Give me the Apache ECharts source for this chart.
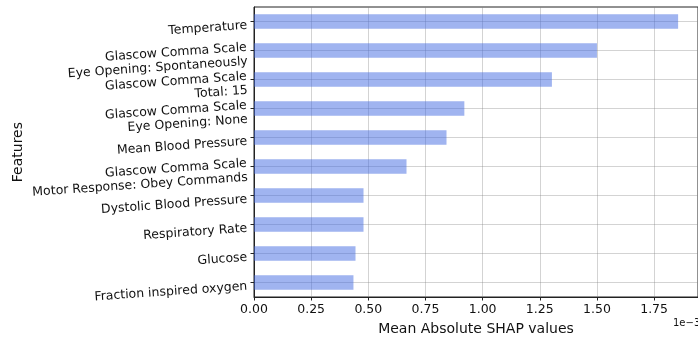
<!DOCTYPE html>
<html>
<head>
<meta charset="utf-8">
<script src="https://cdn.jsdelivr.net/npm/echarts@6/dist/echarts.min.js"></script>
<style>
html,body{margin:0;padding:0;background:#fff;}
#chart{width:698px;height:341px;}
</style>
</head>
<body>
<div id="chart"></div>
<script>
// Feature names (top to bottom)
const features = [
  'Temperature',
  'Glascow Comma Scale\nEye Opening: Spontaneously',
  'Glascow Comma Scale\nTotal: 15',
  'Glascow Comma Scale\nEye Opening: None',
  'Mean Blood Pressure',
  'Glascow Comma Scale\nMotor Response: Obey Commands',
  'Dystolic Blood Pressure',
  'Respiratory Rate',
  'Glucose',
  'Fraction inspired oxygen'
];
// Mean absolute SHAP values, in units of 1e-3
const shapValues = [1.855, 1.500, 1.303, 0.920, 0.842, 0.667, 0.479, 0.479, 0.444, 0.435];
// x tick labels
const xTicks = ['0.00','0.25','0.50','0.75','1.00','1.25','1.50','1.75'];
const scaleNote = '1e\u22123';

const FONT = 'DejaVu Sans';
const chart = echarts.init(document.getElementById('chart'), null, {renderer: 'canvas'});
chart.setOption({
  animation: false,
  backgroundColor: '#fff',
  grid: {
    left: 254, right: -1, top: 7, bottom: 44,
    show: true, borderColor: '#222', borderWidth: 1, backgroundColor: 'transparent'
  },
  xAxis: {
    type: 'value', min: 0, max: 1.942, interval: 0.25,
    name: 'Mean Absolute SHAP values', nameLocation: 'middle', nameGap: 25,
    nameTextStyle: {fontFamily: FONT, fontSize: 14, color: '#111'},
    axisLine: {show: true, lineStyle: {color: '#222', width: 1}},
    axisTick: {show: true, length: 3.5, lineStyle: {color: '#222'}},
    axisLabel: {
      fontFamily: FONT, fontSize: 12.5, color: '#111', margin: 6, showMaxLabel: false,
      formatter: function (v) {
        const i = Math.round(v / 0.25);
        return Math.abs(i * 0.25 - v) < 1e-6 && i < xTicks.length ? xTicks[i] : '';
      }
    },
    splitLine: {show: true, lineStyle: {color: 'rgba(128,128,128,0.35)', width: 1}}
  },
  yAxis: {
    type: 'category', inverse: true, data: features,
    axisLine: {show: true, lineStyle: {color: '#222', width: 1}},
    axisTick: {show: true, alignWithLabel: true, length: 3.5, lineStyle: {color: '#222'}},
    splitLine: {show: true, alignWithLabel: true, lineStyle: {color: 'rgba(128,128,128,0.35)', width: 1}},
    axisLabel: {
      interval: 0, showMinLabel: true, showMaxLabel: true, hideOverlap: false,
      fontFamily: FONT, fontSize: 12.5, color: '#111', rotate: 4, margin: 7, align: 'right',
      formatter: function (v) {
        return '{s| }\n' + v.split('\n').map(function (l) { return '{t|' + l + '}'; }).join('\n');
      },
      rich: {
        s: {fontSize: 1, lineHeight: 8},
        t: {fontFamily: FONT, fontSize: 12.5, lineHeight: 14, color: '#111'}
      }
    }
  },
  series: [{
    type: 'bar', data: shapValues, barWidth: '50%',
    itemStyle: {color: 'rgba(65,105,225,0.5)'}
  }],
  graphic: [
    {type: 'text', left: 11, top: 122, rotation: Math.PI / 2,
     style: {text: 'Features', fontFamily: FONT, fontSize: 14, fill: '#111'}},
    {type: 'text', left: 673, top: 318,
     style: {text: scaleNote, fontFamily: FONT, fontSize: 10, fill: '#111'}}
  ]
});
</script>
</body>
</html>
